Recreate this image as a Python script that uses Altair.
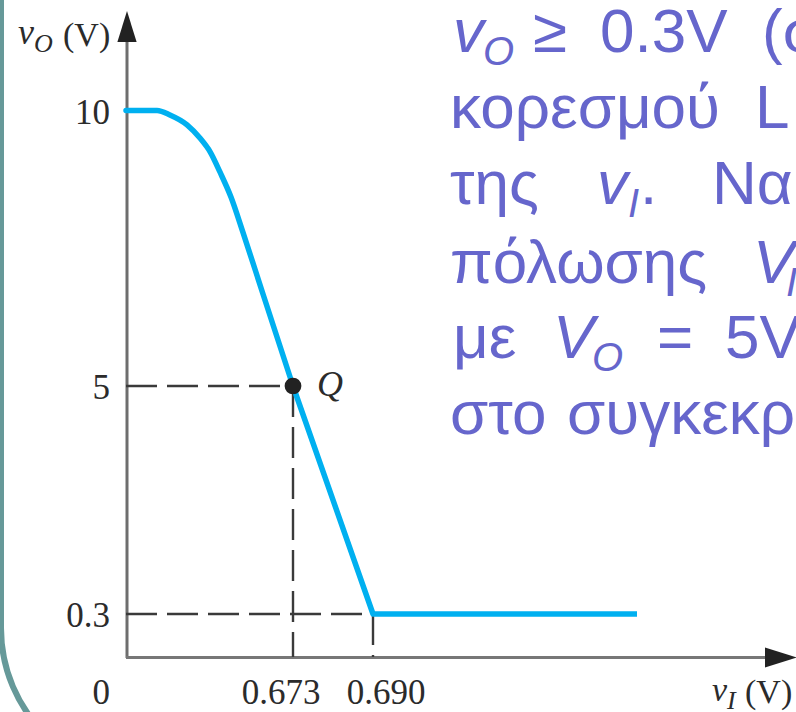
import altair as alt
import pandas as pd

# ---------------- data ----------------
# knee of the transfer curve (smooth part, up to Q)
knee_vi = [0.0, 0.125, 0.177, 0.246, 0.298, 0.339, 0.379, 0.423, 0.472, 0.552, 0.673]
knee_vo = [10.0, 10.0, 9.92, 9.74, 9.50, 9.25, 8.88, 8.43, 7.78, 6.67, 5.0]
# straight part: Q -> edge of saturation -> flat saturation level
lin_vi = [0.673, 0.690, 0.746]
lin_vo = [5.0, 0.3, 0.3]
q_vi = [0.673]
q_vo = [5.0]
q_name = ["Q"]
guide_x = [0.0, 0.673, 0.0, 0.690]
guide_x2 = [0.673, 0.673, 0.690, 0.690]
guide_y = [5.0, 5.0, 0.3, 0.3]
guide_y2 = [5.0, 0.0, 0.3, 0.0]
y_tick_values = [10, 5, 0.3]
y_tick_labels = ["10", "5", "0.3"]
x_tick_values = [0.673, 0.690]
x_tick_labels = ["0.673", "0.690"]
origin_label = "0"

# ---------------- layout ----------------
L, T = 126, 10          # plot origin inside the 796x712 page
W, H = 670, 647
SERIF = "Liberation Serif"
SANS = "Liberation Sans"
INK = "#2b2b2b"
GREEK = "#6666CC"
CURVE = "#00B0F0"

# schematic (piecewise-linear) axes, as in the textbook figure
xs = alt.Scale(domain=[0, 0.673, 0.690, 0.746], range=[0, 167, 247, 511])
ys = alt.Scale(domain=[0, 0.3, 5, 10], range=[647, 604, 376, 100.5])

dummy = pd.DataFrame({"k": [0]})


def txt(s, x, y, size, color, font, style="normal", align="left", baseline="alphabetic"):
    return alt.Chart(dummy).mark_text(
        text=s, font=font, fontSize=size, fontStyle=style, color=color,
        align=align, baseline=baseline,
    ).encode(x=alt.value(x - L), y=alt.value(y - T))


layers = []

# slide border (rounded frame at the left edge)
layers.append(
    alt.Chart(dummy).mark_rect(
        fillOpacity=0, stroke="#669999", strokeWidth=6, cornerRadius=150
    ).encode(x=alt.value(1 - L), x2=alt.value(1400), y=alt.value(-700), y2=alt.value(628 + 150 - T))
)

# axis lines
layers.append(
    alt.Chart(dummy).mark_rule(color="#6e6e6e", strokeWidth=3).encode(
        x=alt.value(127 - L), y=alt.value(30 - T), y2=alt.value(658 - T))
)
layers.append(
    alt.Chart(dummy).mark_rule(color="#777777", strokeWidth=3).encode(
        x=alt.value(126 - L), x2=alt.value(772 - L), y=alt.value(657.5 - T))
)
# arrow heads
layers.append(
    alt.Chart(dummy).mark_point(
        shape="M0,-1L0.62,1L-0.62,1Z", size=31 * 31, filled=True, color="#222222", opacity=1
    ).encode(x=alt.value(127 - L), y=alt.value(26.5 - T))
)
layers.append(
    alt.Chart(dummy).mark_point(
        shape="M1,0L-1,0.62L-1,-0.62Z", size=32 * 32, filled=True, color="#222222", opacity=1
    ).encode(x=alt.value(781 - L), y=alt.value(657.5 - T))
)

# dashed guide lines
guides = pd.DataFrame({"x": guide_x, "x2": guide_x2, "y": guide_y, "y2": guide_y2})
layers.append(
    alt.Chart(guides).mark_rule(color="#3a3a3a", strokeWidth=2.4, strokeDash=[31, 10]).encode(
        x=alt.X("x:Q", scale=xs, axis=None), x2="x2:Q",
        y=alt.Y("y:Q", scale=ys, axis=None), y2="y2:Q",
    )
)

# transfer characteristic
knee = pd.DataFrame({"vi": knee_vi, "vo": knee_vo})
layers.append(
    alt.Chart(knee).mark_line(color=CURVE, strokeWidth=5.5, interpolate="monotone", strokeCap="round").encode(
        x=alt.X("vi:Q", scale=xs, axis=None),
        y=alt.Y("vo:Q", scale=ys, axis=None),
        order=alt.Order("vi:Q"),
    )
)
lin = pd.DataFrame({"vi": lin_vi, "vo": lin_vo})
layers.append(
    alt.Chart(lin).mark_line(color=CURVE, strokeWidth=5.5, strokeJoin="round").encode(
        x=alt.X("vi:Q", scale=xs, axis=None),
        y=alt.Y("vo:Q", scale=ys, axis=None),
        order=alt.Order("vi:Q"),
    )
)

# Q point and its label
qdf = pd.DataFrame({"vi": q_vi, "vo": q_vo, "name": q_name})
layers.append(
    alt.Chart(qdf).mark_point(filled=True, size=280, color="#222222", opacity=1).encode(
        x=alt.X("vi:Q", scale=xs, axis=None), y=alt.Y("vo:Q", scale=ys, axis=None))
)
layers.append(
    alt.Chart(qdf).mark_text(
        font=SERIF, fontSize=36, fontStyle="italic", color=INK, align="left",
        baseline="alphabetic", dx=24, dy=10,
    ).encode(x=alt.X("vi:Q", scale=xs, axis=None), y=alt.Y("vo:Q", scale=ys, axis=None), text="name:N")
)

# tick labels
ytl = pd.DataFrame({"v": y_tick_values, "t": y_tick_labels})
layers.append(
    alt.Chart(ytl).mark_text(font=SERIF, fontSize=35, color=INK, align="right", baseline="middle", dy=2).encode(
        x=alt.value(110 - L), y=alt.Y("v:Q", scale=ys, axis=None), text="t:N")
)
x_label_dx = [-12, 13]
for v, t, d in zip(x_tick_values, x_tick_labels, x_label_dx):
    layers.append(
        alt.Chart(pd.DataFrame({"v": [v], "t": [t]})).mark_text(
            font=SERIF, fontSize=35, color=INK, align="center", baseline="alphabetic", dx=d
        ).encode(x=alt.X("v:Q", scale=xs, axis=None), y=alt.value(704 - T), text="t:N")
    )
layers.append(txt(origin_label, 110, 704, 35, INK, SERIF, align="right"))

# axis titles
layers += [
    txt("v", 18, 44, 36, INK, SERIF, "italic"),
    txt("O", 34, 52, 26, INK, SERIF, "italic"),
    txt("(V)", 63, 46, 34, INK, SERIF),
    txt("v", 712, 701, 34, INK, SERIF, "italic"),
    txt("I", 727, 709, 26, INK, SERIF, "italic"),
    txt("(V)", 745, 703, 34, INK, SERIF),
]

# slide text (Greek), cut by the right edge as in the reference
BIG, SUB = 62, 40
greek = [
    ("v", 453, 52, BIG, "italic"), ("O", 483, 65, SUB, "italic"), ("≥", 533, 52, BIG, "normal"),
    ("0.3V", 600, 52, BIG, "normal"), ("(σ", 762, 52, BIG, "normal"),
    ("κορεσμού", 450, 128, BIG, "normal"), ("L", 755, 128, BIG, "normal"),
    ("της", 450, 204, BIG, "normal"), ("v", 597, 204, BIG, "italic"), ("I", 628, 217, SUB, "italic"),
    (".", 640, 204, BIG, "normal"), ("Να", 712, 204, BIG, "normal"),
    ("πόλωσης", 450, 283, BIG, "normal"), ("V", 753, 283, BIG, "italic"), ("I", 786, 296, SUB, "italic"),
    ("με", 453, 358, BIG, "normal"), ("V", 553, 358, BIG, "italic"), ("O", 592, 371, SUB, "italic"),
    ("=", 657, 358, BIG, "normal"), ("5V", 725, 358, BIG, "normal"),
    ("στο", 450, 434, BIG, "normal"), ("συγκεκρ", 567, 434, BIG, "normal"),
]
for s, x, y, size, style in greek:
    layers.append(txt(s, x, y, size, GREEK, SANS, style))

chart = alt.layer(*layers).properties(
    width=W, height=H,
    padding={"left": L, "top": T, "right": 796 - L - W, "bottom": 712 - T - H},
    autosize=alt.AutoSizeParams(type="none"),
    background="white",
).configure_view(strokeWidth=0)

chart.save("out.html", embed_options={"renderer": "svg", "actions": False})
